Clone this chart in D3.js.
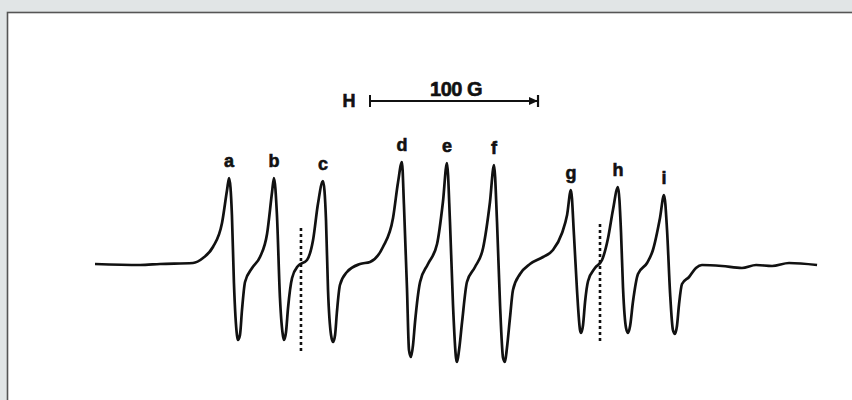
<!DOCTYPE html>
<html>
<head>
<meta charset="utf-8">
<script src="https://cdn.jsdelivr.net/npm/d3@7"></script>
<style>
  html, body { margin: 0; padding: 0; background: #e1e5e6; }
  svg { display: block; }
  .trace { fill: none; stroke: #111; stroke-width: 2.7; stroke-linejoin: round; }
  .marker { stroke: #111; stroke-width: 2.6; stroke-dasharray: 3 3; }
  .lbl { font-family: "Liberation Sans", Arial, sans-serif; font-weight: bold; fill: #111; stroke: #111; stroke-width: 0.6; }
</style>
</head>
<body>
<script>
// field positions (G) of the traced points, one group per hyperfine line
const traceField = [
  0, 26.8, 38.7, 58.3, 64.3, 70.2, 75.6, 78.6,
  79.8, 81.5, 82.7, 84.5, 85.1, 86.3, 87.5, 89.3, 93.5, 98.2, 102.4, 105.4,
  106.5, 108.3, 110.1, 111.9, 112.5, 113.7, 114.9, 117.3, 120.8, 126.2, 129.8, 132.7,
  135.7, 137.5, 138.7, 140.5, 141.7, 142.9, 144.0, 145.8, 150.0, 157.7, 163.7, 171.4, 177.4, 180.4,
  182.7, 183.9, 185.7, 186.9, 188.1, 189.3, 190.5, 193.5, 198.2, 203.6, 207.1,
  209.5, 211.3, 213.1, 214.9, 215.5, 216.7, 218.5, 221.4, 226.2, 231.0, 235.1,
  237.5, 239.3, 241.1, 242.9, 244.0, 245.2, 247.0, 248.8, 253.0, 258.9, 266.7, 272.6, 278.0, 281.0,
  283.3, 285.1, 286.9, 288.7, 289.3, 290.5, 291.7, 293.5, 297.6, 301.8, 305.4, 308.3,
  311.3, 313.1, 314.3, 316.1, 317.3, 318.5, 320.2, 323.2, 328.6, 332.1, 336.3,
  338.7, 340.5, 342.3, 344.0, 345.2, 346.4, 347.6, 349.4, 353.6, 357.7, 361.3, 373.2, 385.1, 393.5, 403.0, 413.1, 429.8
];

// first-derivative signal (arb. units)
const traceSignal = [
  1, 0, 1, 2, 7, 18, 42, 75,
  87, 50, -18, -70, -75, -70, -45, -17, -3, 8, 31, 73,
  87, 50, -33, -71, -75, -67, -43, -13, -1, 5, 25, 61,
  84, 45, -25, -70, -77, -70, -47, -20, -7, 1, 3, 18, 47, 83,
  103, 60, -23, -85, -92, -80, -57, -17, 1, 21, 63,
  102, 43, -40, -93, -97, -85, -57, -17, -2, 17, 63,
  100, 43, -40, -93, -97, -83, -53, -25, -9, 1, 8, 15, 32, 50,
  75, 30, -25, -65, -68, -60, -37, -16, -3, 5, 27, 55,
  78, 33, -23, -63, -68, -61, -37, -9, 2, 15, 47,
  70, 35, -28, -65, -69, -61, -40, -19, -12, -3, 0, -1, -3, 0, -1, 2, 0
];

const lineLabels = ['a', 'b', 'c', 'd', 'e', 'f', 'g', 'h', 'i'];
const lineField = [79.8, 106.5, 135.7, 182.7, 209.5, 237.5, 283.3, 311.3, 338.7];
const linePeak = [87, 87, 84, 103, 102, 100, 75, 78, 70];

// dotted markers: field, top and bottom of the dotted line
const markerField = [122.6, 300.6];
const markerTop = [37, 41];
const markerBottom = [-87, -77];

const scaleBarStart = 163.7; // G
const scaleBarLength = 100;  // G
const scaleBarText = '100 G';

const width = 852;
const height = 400;

const svg = d3.select('body').append('svg')
  .attr('width', width)
  .attr('height', height);

// white panel with dark top/left edge
svg.append('rect')
  .attr('x', 7.5).attr('y', 12.5)
  .attr('width', 900).attr('height', 500)
  .attr('fill', '#fff')
  .attr('stroke', '#555')
  .attr('stroke-width', 1.6);

const field = d3.scaleLinear().domain([0, 430]).range([95, 95 + 430 * 1.68]);
const signal = d3.scaleLinear().domain([-100, 100]).range([365, 165]);

const g = svg.append('g');

const points = traceField.map((f, i) => [f, traceSignal[i]]);
const line = d3.line()
  .x(d => field(d[0]))
  .y(d => signal(d[1]))
  .curve(d3.curveMonotoneX);

g.append('path')
  .attr('class', 'trace')
  .attr('d', line(points));

// dotted markers
g.selectAll('.marker')
  .data(markerField)
  .enter()
  .append('line')
  .attr('class', 'marker')
  .attr('x1', d => field(d))
  .attr('x2', d => field(d))
  .attr('y1', (d, i) => signal(markerTop[i]))
  .attr('y2', (d, i) => signal(markerBottom[i]));

// line labels
g.selectAll('.line-label')
  .data(lineLabels)
  .enter()
  .append('text')
  .attr('class', 'lbl line-label')
  .attr('x', (d, i) => field(lineField[i]))
  .attr('y', (d, i) => signal(linePeak[i] + 11))
  .attr('text-anchor', 'middle')
  .style('font-size', '18px')
  .text(d => d);

// scale bar
const barY = 101;
const x0 = field(scaleBarStart);
const x1 = field(scaleBarStart + scaleBarLength);
const bar = svg.append('g');
bar.append('line')
  .attr('x1', x0).attr('x2', x1)
  .attr('y1', barY).attr('y2', barY)
  .attr('stroke', '#111').attr('stroke-width', 2);
bar.append('line')
  .attr('x1', x0).attr('x2', x0)
  .attr('y1', barY - 6).attr('y2', barY + 6)
  .attr('stroke', '#111').attr('stroke-width', 2);
bar.append('line')
  .attr('x1', x1).attr('x2', x1)
  .attr('y1', barY - 6).attr('y2', barY + 6)
  .attr('stroke', '#111').attr('stroke-width', 2.2);
bar.append('path')
  .attr('d', `M${x1 - 9},${barY - 4} L${x1},${barY} L${x1 - 9},${barY + 4} Z`)
  .attr('fill', '#111');
bar.append('text')
  .attr('class', 'lbl')
  .attr('x', x0 - 21).attr('y', barY + 6)
  .attr('text-anchor', 'middle')
  .style('font-size', '18px')
  .text('H');
bar.append('text')
  .attr('class', 'lbl')
  .attr('x', (x0 + x1) / 2 + 2).attr('y', barY - 5)
  .attr('text-anchor', 'middle')
  .style('font-size', '20px')
  .style('letter-spacing', '-0.5px')
  .text(scaleBarText);
</script>
</body>
</html>
